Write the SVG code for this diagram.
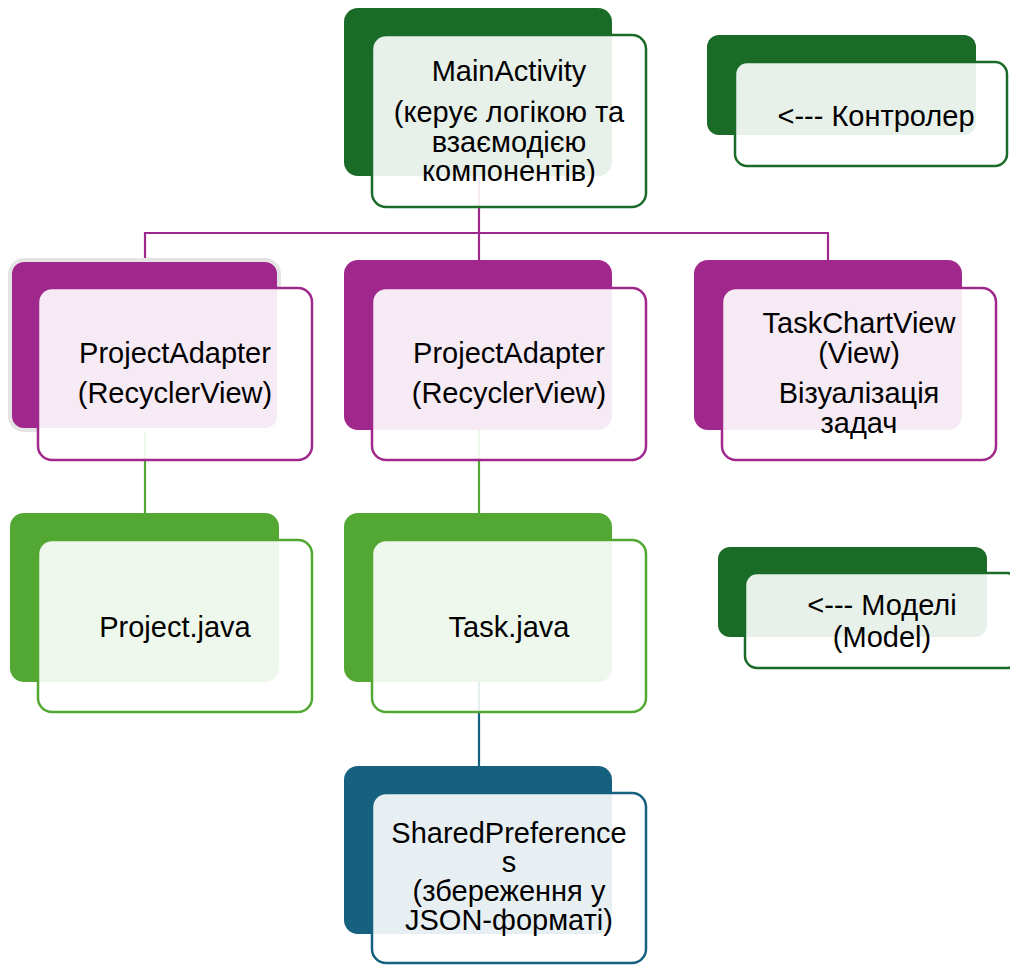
<svg xmlns="http://www.w3.org/2000/svg" width="1010" height="965" viewBox="0 0 1010 965">
<style>
text{font-family:"Liberation Sans",Arial,sans-serif;font-size:29px;fill:#000;text-anchor:middle}
.front{fill:#fff;fill-opacity:0.9;stroke-width:2.5}
.dg{fill:#1b6b28}.lg{fill:#52a832}.pu{fill:#a0288c}.bl{fill:#15617f}
.sdg{stroke:#1b6b28}.slg{stroke:#52a832}.spu{stroke:#a0288c}.sbl{stroke:#15617f}
.conn{fill:none;stroke-width:2.2}
</style>
<rect width="1010" height="965" fill="#fff"/>
<g id="connectors">
<path class="conn spu" d="M479 176 V233"/>
<path class="conn spu" d="M145 260 V233 H828 V260 M479 233 V260"/>
<path class="conn slg" d="M145 430 V513 M479 430 V513"/>
<path class="conn sbl" d="M479 682 V766"/>
</g>
<g id="main">
<rect class="dg" x="344" y="8" width="268" height="168" rx="14"/>
<rect class="front sdg" x="372" y="35" width="274" height="172" rx="14"/>
<text x="509" y="81">MainActivity</text>
<text x="509" y="122">(керує логікою та</text>
<text x="509" y="152">взаємодією</text>
<text x="509" y="181">компонентів)</text>
</g>
<g id="controller">
<rect class="dg" x="707" y="35" width="269" height="100" rx="12"/>
<rect class="front sdg" x="735" y="62" width="272" height="104" rx="12"/>
<text x="876" y="126">&lt;--- Контролер</text>
</g>
<g id="adapter1">
<rect x="10" y="260" width="269" height="170" rx="14" fill="#a0288c" stroke="#e4e4e4" stroke-width="4"/>
<rect class="front spu" x="38" y="288" width="274" height="172" rx="14"/>
<text x="175" y="363">ProjectAdapter</text>
<text x="175" y="403">(RecyclerView)</text>
</g>
<g id="adapter2">
<rect class="pu" x="344" y="260" width="268" height="170" rx="14"/>
<rect class="front spu" x="372" y="288" width="274" height="172" rx="14"/>
<text x="509" y="363">ProjectAdapter</text>
<text x="509" y="403">(RecyclerView)</text>
</g>
<g id="chartview">
<rect class="pu" x="694" y="260" width="268" height="170" rx="14"/>
<rect class="front spu" x="722" y="288" width="274" height="172" rx="14"/>
<text x="859" y="333">TaskChartView</text>
<text x="859" y="363">(View)</text>
<text x="859" y="403">Візуалізація</text>
<text x="859" y="433">задач</text>
</g>
<g id="project">
<rect class="lg" x="10" y="513" width="269" height="169" rx="14"/>
<rect class="front slg" x="38" y="540" width="274" height="172" rx="14"/>
<text x="175" y="637">Project.java</text>
</g>
<g id="task">
<rect class="lg" x="344" y="513" width="268" height="169" rx="14"/>
<rect class="front slg" x="372" y="540" width="274" height="172" rx="14"/>
<text x="509" y="637">Task.java</text>
</g>
<g id="model">
<rect class="dg" x="718" y="547" width="269" height="90" rx="12"/>
<rect class="front sdg" x="745" y="573" width="274" height="95" rx="12"/>
<text x="882" y="615">&lt;--- Моделі</text>
<text x="882" y="647">(Model)</text>
</g>
<g id="sharedprefs">
<rect class="bl" x="344" y="766" width="268" height="168" rx="14"/>
<rect class="front sbl" x="372" y="793" width="274" height="170" rx="14"/>
<text x="509" y="843">SharedPreference</text>
<text x="509" y="872">s</text>
<text x="509" y="901">(збереження у</text>
<text x="509" y="930">JSON-форматі)</text>
</g>
</svg>
